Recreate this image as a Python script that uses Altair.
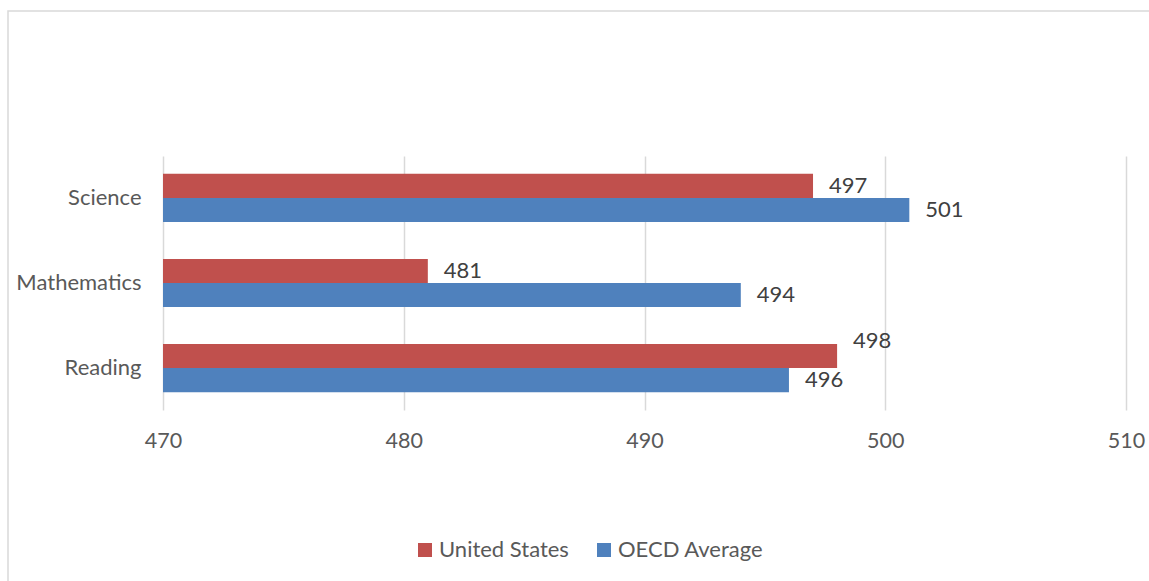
import altair as alt
import pandas as pd

subjects = ["Science", "Mathematics", "Reading"]
series = ["United States", "OECD Average"]
us_scores = [497, 481, 498]
oecd_scores = [501, 494, 496]
x_ticks = [470, 480, 490, 500, 510]
colors = ["#C0504D", "#4F81BD"]

rows = []
for s, u, o in zip(subjects, us_scores, oecd_scores):
    rows.append({"Subject": s, "Series": series[0], "Score": u})
    rows.append({"Subject": s, "Series": series[1], "Score": o})
df = pd.DataFrame(rows)

FONT = "Lato"
FS = 22

base = alt.Chart(df).encode(
    y=alt.Y("Subject:N", sort=subjects, title=None,
            scale=alt.Scale(paddingInner=0.435, paddingOuter=0.21),
            axis=alt.Axis(domain=False, ticks=False, labelPadding=22, grid=False,
                          labelFontSize=FS, labelColor="#595959", labelFont=FONT)),
    yOffset=alt.YOffset("Series:N", sort=series, scale=alt.Scale(paddingInner=0, paddingOuter=0)),
)

xenc = alt.X("Score:Q", title=None,
             scale=alt.Scale(domain=[470, 510], nice=False, zero=False),
             axis=alt.Axis(values=x_ticks, grid=True, gridColor="#D9D9D9", gridWidth=1.5,
                           domain=False, ticks=False, labelPadding=20, labelFlush=False,
                           labelFontSize=21.5, labelColor="#595959", labelFont=FONT))

bars = base.mark_bar(clip=True).encode(
    x=xenc,
    color=alt.Color("Series:N", sort=series,
                    scale=alt.Scale(domain=series, range=colors),
                    legend=alt.Legend(title=None, orient="none", direction="horizontal",
                                      legendX=251, legendY=383, padding=0,
                                      symbolType="square", symbolSize=196,
                                      symbolStrokeWidth=0, labelOffset=3,
                                      columnPadding=24,
                                      labelFontSize=FS, labelColor="#595959",
                                      labelFont=FONT)),
)

labels = base.mark_text(align="left", baseline="middle", dx=16, fontSize=FS,
                        color="#404040", font=FONT).encode(
    x=alt.X("Score:Q"),
    text=alt.Text("Score:Q"),
).transform_filter(
    "!(datum.Subject == 'Reading' && datum.Series == 'United States')"
)

labels_shift = base.mark_text(align="left", baseline="middle", dx=16, dy=-15, fontSize=FS,
                              color="#404040", font=FONT).encode(
    x=alt.X("Score:Q"),
    text=alt.Text("Score:Q"),
).transform_filter(
    "datum.Subject == 'Reading' && datum.Series == 'United States'"
)

frame = alt.Chart(pd.DataFrame({"a": [0]})).mark_rect(
    fill=None, stroke="#D9D9D9", strokeWidth=1.5
).encode(
    x=alt.value(-155), x2=alt.value(1000),
    y=alt.value(-145), y2=alt.value(440),
)

chart = alt.layer(frame, bars, labels, labels_shift).properties(
    width=963, height=254,
    padding={"left": 163, "top": 156, "right": 23, "bottom": 171},
    autosize=alt.AutoSizeParams(type="none"),
    background="white",
).configure_view(stroke=None)

chart.save("out.html", embed_options={"renderer": "svg", "actions": False})
